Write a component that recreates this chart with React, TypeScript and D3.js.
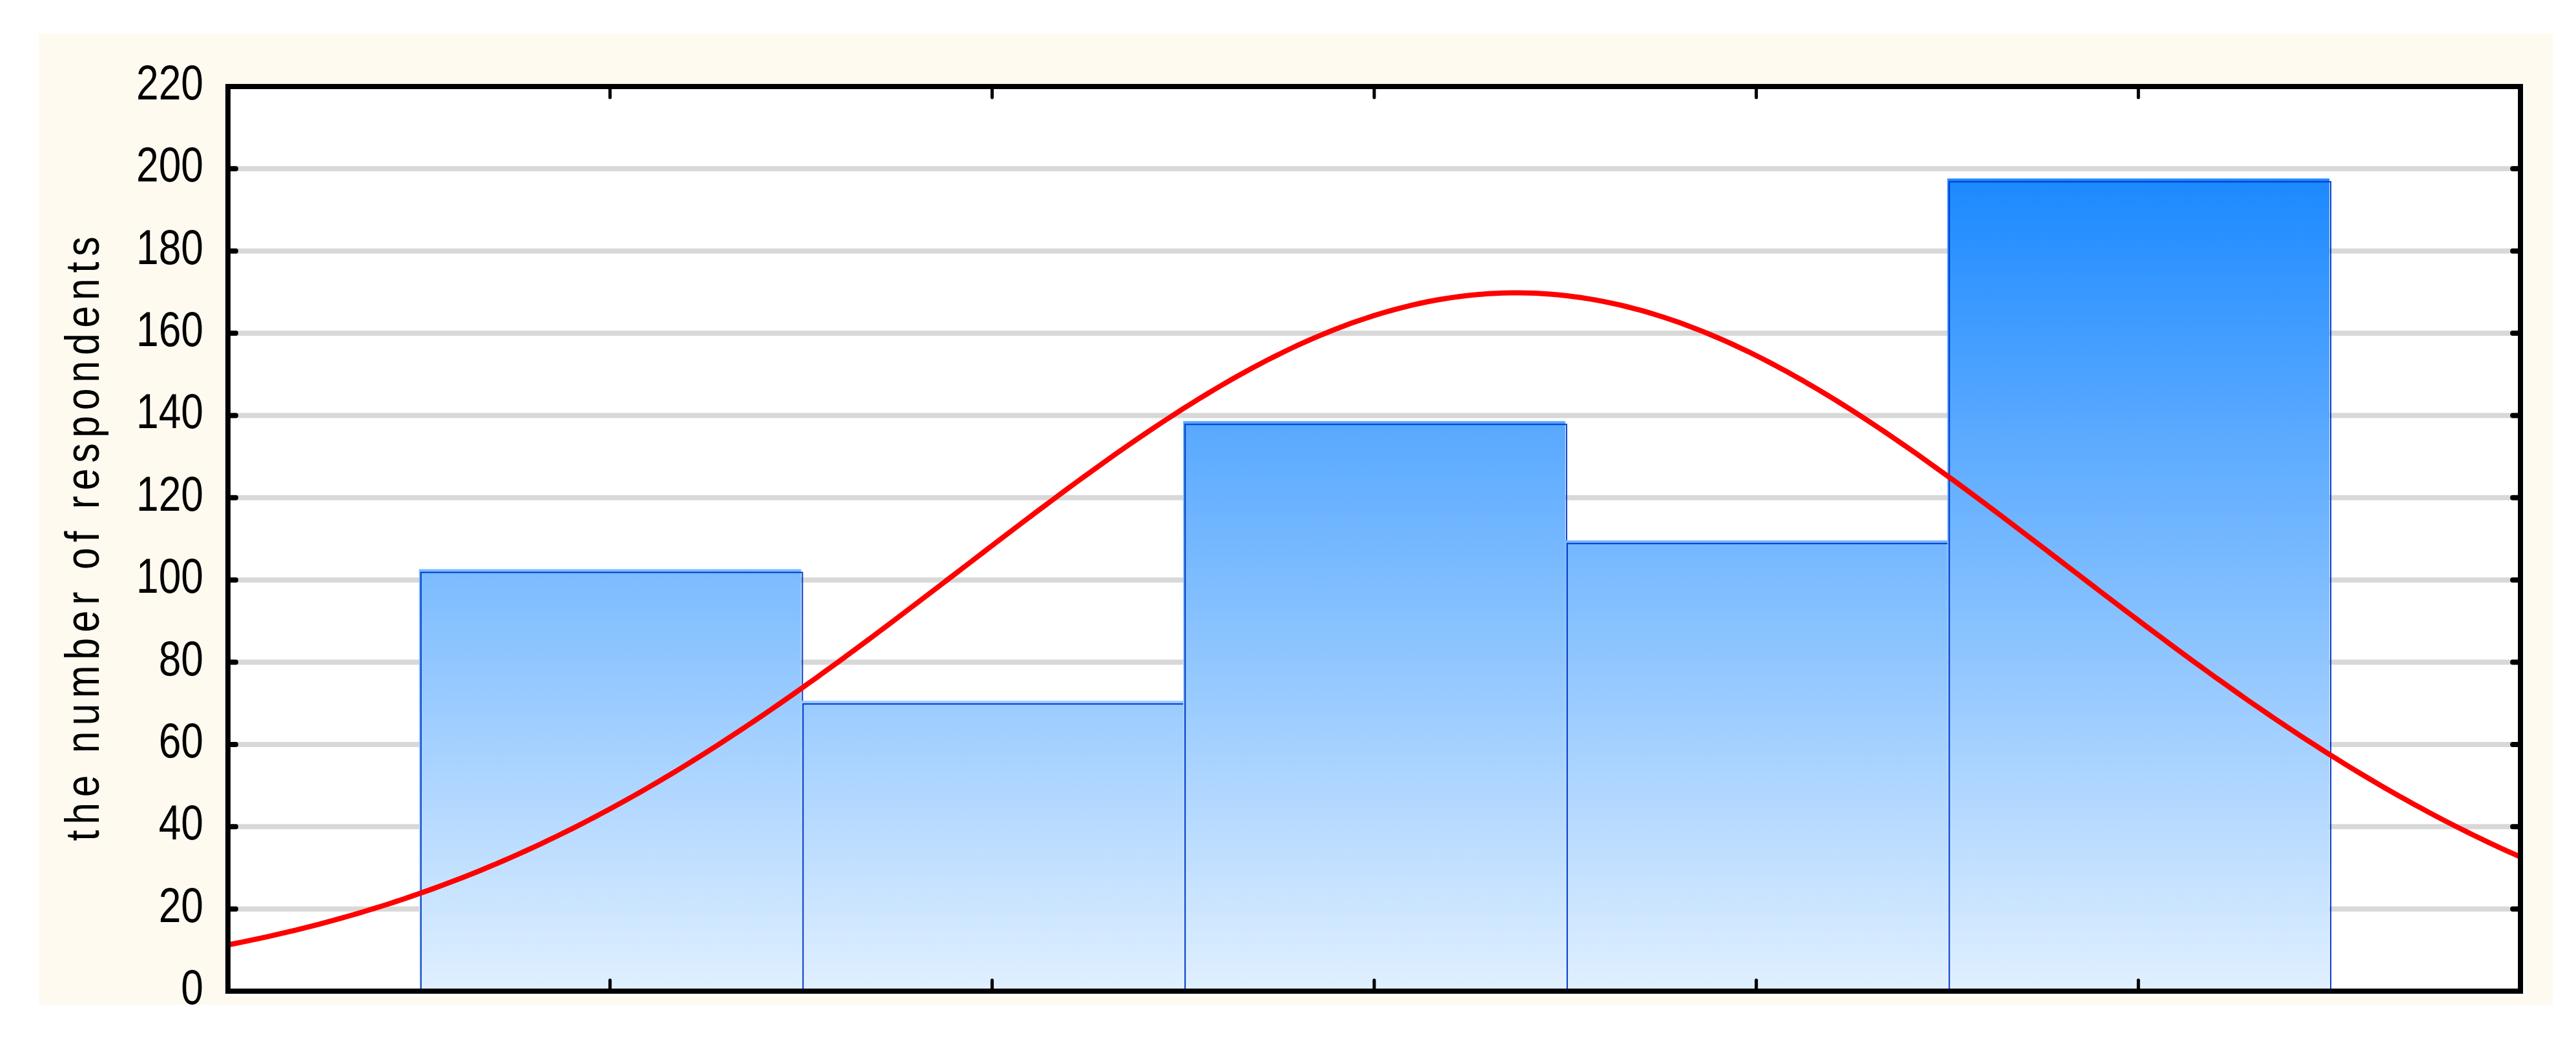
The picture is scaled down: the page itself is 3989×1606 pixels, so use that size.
import React from 'react';
import * as d3 from 'd3';

// histogram bins (class index) and counts
const bins = [1, 2, 3, 4, 5];
const counts = [102, 70, 138, 109, 197];
const yTicks = [0, 20, 40, 60, 80, 100, 120, 140, 160, 180, 200, 220];
const yTitle = 'the number of respondents';

const W = 3989;
const H = 1606;
const left = 353;
const right = 3903;
const top = 134;
const bottom = 1535;
const font = "'Liberation Sans', Arial, sans-serif";
const narrow = 0.82; // fake the condensed face of the original

const App = () => {
    const x = d3.scaleLinear().domain([0, 6]).range([left, right]);
    const y = d3.scaleLinear().domain([0, 220]).range([bottom, top]);

    // normal curve fitted to the histogram (mean / sd of the binned data)
    const n = d3.sum(counts);
    const mean = d3.sum(bins, (b, i) => b * counts[i]) / n;
    const sd = Math.sqrt(d3.sum(bins, (b, i) => counts[i] * (b - mean) ** 2) / n);
    const fitted = d3.range(0, 6.001, 0.02).map(v => [
        v,
        (n / (sd * Math.sqrt(2 * Math.PI))) * Math.exp(-0.5 * ((v - mean) / sd) ** 2),
    ]);
    const line = d3.line<number[]>()
        .x(d => x(d[0]))
        .y(d => y(d[1]))
        .curve(d3.curveMonotoneX);

    const gridTicks = yTicks.filter(t => t > 0 && t < 220);

    return (
        <svg width={W} height={H} style={{ position: 'absolute', left: 0, top: 0, display: 'block' }}>
            <defs>
                <linearGradient id="barGrad" gradientUnits="userSpaceOnUse" x1={0} x2={0} y1={y(0)} y2={y(200)}>
                    <stop offset="0" stopColor="#e0f0ff" />
                    <stop offset="1" stopColor="#1a88ff" />
                </linearGradient>
                <clipPath id="plotClip">
                    <rect x={left} y={top} width={right - left} height={bottom - top} />
                </clipPath>
            </defs>
            <rect x={0} y={0} width={W} height={H} fill="#ffffff" />
            <rect x={60} y={52} width={3893} height={1504} fill="#fffaf0" />
            <rect x={left - 4} y={top - 4} width={right - left + 12} height={bottom - top + 12} fill="#ffffff" />

            {/* grid lines */}
            {gridTicks.map(t => (
                <line key={'g' + t} x1={left} x2={right} y1={y(t)} y2={y(t)} stroke="#d8d8d8" strokeWidth={8} />
            ))}

            {/* bars */}
            {counts.map((c, i) => {
                const x0 = x(bins[i] - 0.5);
                const x1 = x(bins[i] + 0.5);
                return (
                    <g key={'b' + i}>
                        <rect x={x0} y={y(c) - 4} width={x1 - x0} height={y(0) - y(c) + 4} fill="url(#barGrad)" />
                        <path
                            d={`M${x0 + 3},${y(0)}V${y(c) + 1}H${x1 + 2}V${y(0)}`}
                            fill="none"
                            stroke="#0038c8"
                            strokeWidth={2}
                        />
                    </g>
                );
            })}

            {/* fitted normal curve */}
            <path d={line(fitted) || ''} fill="none" stroke="#ff0000" strokeWidth={8} clipPath="url(#plotClip)" />

            {/* ticks */}
            {gridTicks.map(t => (
                <g key={'t' + t} stroke="#000" strokeWidth={8} strokeLinecap="round">
                    <line x1={left} x2={left + 12} y1={y(t)} y2={y(t)} />
                    <line x1={right} x2={right - 12} y1={y(t)} y2={y(t)} />
                </g>
            ))}
            {bins.map(b => (
                <g key={'xt' + b} stroke="#000" strokeWidth={5} strokeLinecap="round">
                    <line x1={x(b)} x2={x(b)} y1={bottom} y2={bottom - 17} />
                    <line x1={x(b)} x2={x(b)} y1={top} y2={top + 17} />
                </g>
            ))}

            {/* frame */}
            <rect x={left} y={top} width={right - left} height={bottom - top} fill="none" stroke="#000" strokeWidth={8} />

            {/* y tick labels */}
            {yTicks.map(t => (
                <text
                    key={'l' + t}
                    transform={`translate(315, ${y(t) + 20}) scale(${narrow}, 1)`}
                    textAnchor="end"
                    fontFamily={font}
                    fontSize={76}
                    fill="#000"
                >
                    {t}
                </text>
            ))}

            {/* y axis title */}
            <text
                transform={`translate(153, ${(top + bottom) / 2}) rotate(-90) scale(${narrow}, 1)`}
                textAnchor="middle"
                fontFamily={font}
                fontSize={74}
                textLength={936 / narrow}
                lengthAdjust="spacing"
                fill="#000"
            >
                {yTitle}
            </text>
        </svg>
    );
};

export default App;
